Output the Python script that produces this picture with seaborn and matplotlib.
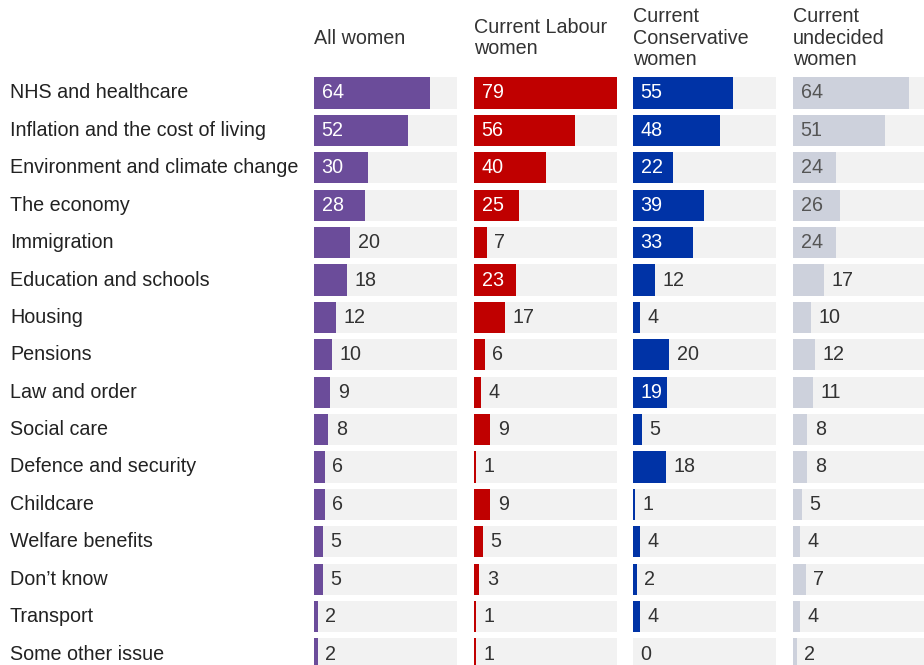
import matplotlib
matplotlib.use("Agg")
import matplotlib.pyplot as plt
import matplotlib.transforms as mtransforms
import seaborn as sns
import pandas as pd

categories = ["NHS and healthcare", "Inflation and the cost of living",
              "Environment and climate change", "The economy", "Immigration",
              "Education and schools", "Housing", "Pensions", "Law and order",
              "Social care", "Defence and security", "Childcare",
              "Welfare benefits", "Don\u2019t know", "Transport", "Some other issue"]
all_women = [64, 52, 30, 28, 20, 18, 12, 10, 9, 8, 6, 6, 5, 5, 2, 2]
labour = [79, 56, 40, 25, 7, 23, 17, 6, 4, 9, 1, 9, 5, 3, 1, 1]
conservative = [55, 48, 22, 39, 33, 12, 4, 20, 19, 5, 18, 1, 4, 2, 4, 0]
undecided = [64, 51, 24, 26, 24, 17, 10, 12, 11, 8, 8, 5, 4, 7, 4, 2]
headers = ["All women", "Current Labour\nwomen", "Current\nConservative\nwomen",
           "Current\nundecided\nwomen"]

sns.set_style("white")
plt.rcParams["font.family"] = ["Liberation Sans", "DejaVu Sans"]

W, H = 924, 665
fig = plt.figure(figsize=(W / 100, H / 100), dpi=100)

# values, colour, label colour inside the bar, left edge (px), labels kept outside
panels = [
    (all_women, "#6b4c9a", "white", 314, {"Immigration"}),
    (labour, "#c00000", "white", 474, set()),
    (conservative, "#0033a6", "white", 633, {"Pensions"}),
    (undecided, "#cdd1dc", "#555555", 793, set()),
]
xmax = max(labour)
px_per_unit = 143 / 79
row_h = 37.4
top = 93 - row_h / 2
ax_h = row_h * 16
fs = 14.2

axes = []
for i, (vals, color, in_col, left, outside) in enumerate(panels):
    ax = fig.add_axes([left / W, (H - top - ax_h) / H, xmax * px_per_unit / W, ax_h / H])
    df = pd.DataFrame({"cat": categories, "val": vals, "bg": [xmax] * len(vals)})
    sns.barplot(data=df, y="cat", x="bg", color="#f2f2f2", width=0.83,
                saturation=1, linewidth=0, ax=ax)
    sns.barplot(data=df, y="cat", x="val", color=color, width=0.83,
                saturation=1, linewidth=0, ax=ax)
    ax.set_xlim(0, xmax)
    ax.set_ylim(15.5, -0.5)
    ax.axis("off")
    for j, (c, v) in enumerate(zip(categories, vals)):
        if v >= 19 and c not in outside:
            ax.annotate(str(v), (0, j), xytext=(5.5, 0), textcoords="offset points",
                        va="center", ha="left", fontsize=fs, color=in_col)
        else:
            ax.annotate(str(v), (v, j), xytext=(5.5, 0), textcoords="offset points",
                        va="center", ha="left", fontsize=fs, color="#333333")
    fig.text(left / W, 1 - 38 / H, headers[i], ha="left", va="center",
             fontsize=fs, color="#333333", linespacing=1.15)
    axes.append(ax)

trans = mtransforms.blended_transform_factory(fig.transFigure, axes[0].transData)
for j, c in enumerate(categories):
    fig.text(10 / W, j, c, transform=trans, ha="left", va="center",
             fontsize=fs, color="#222222")

fig.savefig("out.png", dpi=100)
